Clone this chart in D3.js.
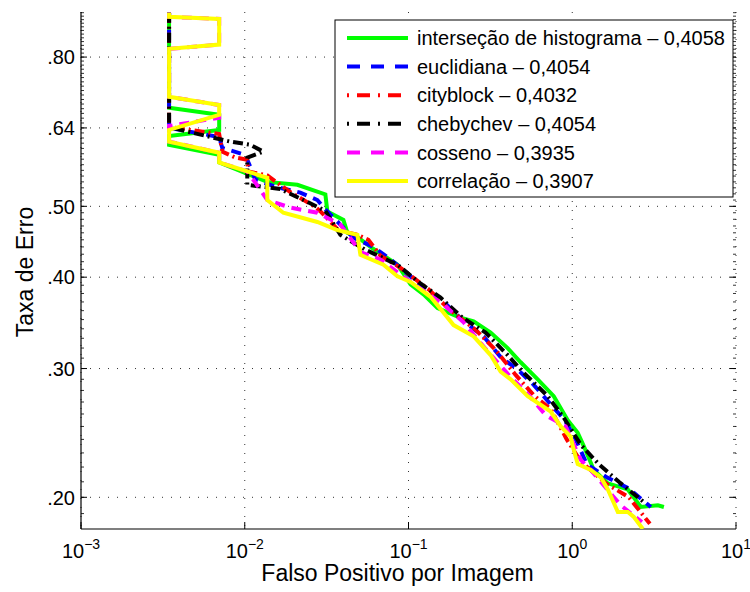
<!DOCTYPE html>
<html>
<head>
<meta charset="utf-8">
<script src="https://cdn.jsdelivr.net/npm/d3@7"></script>
<style>
  body { margin: 0; background: #fff; }
  text { font-family: "Liberation Sans", Arial, sans-serif; fill: #000; }
</style>
</head>
<body>
<div id="chart"></div>
<script>
// Data (falso positivo por imagem vs taxa de erro)
var interFP  = [0.00345,0.00345,0.00698,0.00698,0.00345,0.00345,0.00698,0.00698,0.01373,0.02095,0.03107,0.03196,0.04003,0.04235,0.04944,0.05856,0.08566,0.1029,0.1235,0.1504,0.208,0.2498,0.3174,0.4032,0.4842,0.6152,0.7707,0.9387,1.08,1.176,1.354,1.649,2.185,2.624,3.333,3.628];
var interErr = [0.920,0.682,0.667,0.636,0.624,0.607,0.588,0.574,0.540,0.535,0.519,0.492,0.479,0.460,0.453,0.440,0.416,0.391,0.379,0.363,0.352,0.348,0.336,0.320,0.306,0.290,0.275,0.255,0.245,0.235,0.218,0.209,0.205,0.194,0.195,0.194];

var euclFP  = [0.00345,0.00345,0.00698,0.00729,0.01007,0.01081,0.01159,0.0158,0.02185,0.02776,0.03107,0.03837,0.04608,0.0611,0.0809,0.1307,0.1684,0.217,0.2875,0.3653,0.4642,0.5816,0.7387,0.900,1.051,1.227,1.626,2.185,3.021];
var euclErr = [0.920,0.640,0.622,0.601,0.588,0.566,0.544,0.531,0.522,0.510,0.495,0.472,0.453,0.440,0.420,0.383,0.368,0.348,0.332,0.311,0.299,0.285,0.268,0.255,0.240,0.222,0.213,0.206,0.194];

var cityFP  = [0.00345,0.00345,0.00698,0.00729,0.00875,0.01036,0.0105,0.01373,0.01898,0.02698,0.029,0.0373,0.04875,0.05692,0.06742,0.08936,0.1326,0.1807,0.257,0.3405,0.4512,0.5897,0.7387,0.9256,1.127,1.603,2.217,2.979];
var cityErr = [0.920,0.642,0.628,0.594,0.583,0.579,0.558,0.551,0.523,0.499,0.492,0.464,0.457,0.450,0.428,0.412,0.385,0.360,0.339,0.318,0.294,0.275,0.264,0.240,0.224,0.209,0.200,0.184];

var chebFP  = [0.00345,0.00345,0.00484,0.00816,0.01081,0.01297,0.01036,0.01036,0.01648,0.02412,0.03107,0.03837,0.05458,0.08566,0.1151,0.1569,0.2139,0.2957,0.4032,0.4981,0.7084,0.8872,1.127,1.452,1.925,2.737];
var chebErr = [0.920,0.642,0.630,0.613,0.607,0.594,0.583,0.535,0.528,0.507,0.493,0.457,0.436,0.416,0.394,0.375,0.352,0.336,0.313,0.297,0.275,0.257,0.236,0.222,0.210,0.197];

var cossFP  = [0.00345,0.00345,0.00698,0.00698,0.00345,0.00345,0.00698,0.00698,0.00345,0.00345,0.00698,0.00698,0.01036,0.01159,0.01373,0.01898,0.02776,0.03837,0.05088,0.06742,0.1,0.1637,0.217,0.2757,0.4207,0.542,0.6885,0.9124,1.127,1.298,1.98,2.661];
var cossErr = [0.920,0.908,0.902,0.832,0.821,0.706,0.688,0.661,0.644,0.613,0.592,0.574,0.558,0.539,0.510,0.498,0.490,0.472,0.433,0.423,0.396,0.367,0.347,0.325,0.292,0.276,0.259,0.250,0.225,0.218,0.195,0.185];

var corrFP  = [0.00345,0.00345,0.00698,0.00698,0.00345,0.00345,0.00698,0.00698,0.00345,0.00345,0.00698,0.00698,0.01373,0.01373,0.0172,0.02776,0.03678,0.04875,0.05088,0.07034,0.08566,0.1029,0.1363,0.1569,0.1885,0.2498,0.3174,0.3653,0.4207,0.5344,0.7387,0.8507,0.979,1.007,1.08,1.298,1.494,1.649,1.898,2.185,2.378,2.699];
var corrErr = [0.920,0.908,0.902,0.832,0.821,0.706,0.688,0.667,0.636,0.613,0.592,0.574,0.547,0.510,0.490,0.476,0.464,0.457,0.429,0.416,0.401,0.394,0.376,0.362,0.344,0.332,0.313,0.297,0.290,0.275,0.262,0.250,0.242,0.235,0.222,0.218,0.213,0.205,0.191,0.191,0.188,0.181];

var seriesNames = ["interseção de histograma – 0,4058", "euclidiana – 0,4054", "cityblock – 0,4032",
                   "chebychev – 0,4054", "cosseno – 0,3935", "correlação – 0,3907"];

var xTicks = [1e-3, 1e-2, 1e-1, 1, 10];
var xExps = ["−3", "−2", "−1", "0", "1"];
var yTicks = [0.20, 0.30, 0.40, 0.50, 0.64, 0.80];
var yTickLabels = [".20", ".30", ".40", ".50", ".64", ".80"];

var svgWidth = 750;
var svgHeight = 592;
var margin = { top: 12, right: 14, bottom: 63, left: 81 };
var width = svgWidth - margin.left - margin.right;
var height = svgHeight - margin.top - margin.bottom;

var svg = d3.select("#chart").append("svg")
  .attr("width", svgWidth)
  .attr("height", svgHeight);

var g = svg.append("g")
  .attr("transform", `translate(${margin.left},${margin.top})`);

var x = d3.scaleLog().domain([1e-3, 10]).range([0, width]);
var y = d3.scaleLog().domain([0.181, 0.922]).range([height, 0]);

// dotted grid
g.selectAll(".gx").data(xTicks).enter().append("line")
  .attr("x1", d => x(d)).attr("x2", d => x(d))
  .attr("y1", 0).attr("y2", height)
  .attr("stroke", "#333").attr("stroke-width", 1)
  .attr("stroke-dasharray", "1,8");
g.selectAll(".gy").data(yTicks).enter().append("line")
  .attr("x1", 0).attr("x2", width)
  .attr("y1", d => y(d)).attr("y2", d => y(d))
  .attr("stroke", "#333").attr("stroke-width", 1)
  .attr("stroke-dasharray", "1,8");

// minor y ticks (inside, both sides)
var yMinor = d3.range(19, 93).map(d => d / 100);
[0, width].forEach(function(x0, i) {
  var dir = i === 0 ? 1 : -1;
  g.selectAll(null).data(yMinor).enter().append("line")
    .attr("x1", x0).attr("x2", x0 + dir * 3)
    .attr("y1", d => y(d)).attr("y2", d => y(d))
    .attr("stroke", "#000").attr("stroke-width", 0.8);
  g.selectAll(null).data(yTicks).enter().append("line")
    .attr("x1", x0).attr("x2", x0 + dir * 6)
    .attr("y1", d => y(d)).attr("y2", d => y(d))
    .attr("stroke", "#000").attr("stroke-width", 1);
});

// x ticks (inside)
g.selectAll(null).data(xTicks).enter().append("line")
  .attr("x1", d => x(d)).attr("x2", d => x(d))
  .attr("y1", height).attr("y2", height - 7)
  .attr("stroke", "#000").attr("stroke-width", 1);

// axis lines
g.append("line").attr("x1", 0).attr("x2", 0).attr("y1", 0).attr("y2", height)
  .attr("stroke", "#000").attr("stroke-width", 1.2);
g.append("line").attr("x1", 0).attr("x2", width).attr("y1", height).attr("y2", height)
  .attr("stroke", "#000").attr("stroke-width", 1.2);

// tick labels
g.selectAll(".ylab").data(yTicks).enter().append("text")
  .attr("x", -6).attr("y", d => y(d))
  .attr("dy", "0.36em")
  .attr("text-anchor", "end")
  .style("font-size", "20px")
  .text((d, i) => yTickLabels[i]);

var xl = g.selectAll(".xlab").data(xTicks).enter().append("text")
  .attr("x", d => x(d)).attr("y", height + 29)
  .attr("text-anchor", "middle")
  .style("font-size", "20px");
xl.append("tspan").text("10");
xl.append("tspan").attr("dy", -9).style("font-size", "14px").text((d, i) => xExps[i]);

// axis titles
g.append("text")
  .attr("x", width / 2 - 11).attr("y", height + 52)
  .attr("text-anchor", "middle")
  .style("font-size", "23px")
  .text("Falso Positivo por Imagem");

g.append("text")
  .attr("transform", "rotate(-90)")
  .attr("x", -260).attr("y", -48)
  .attr("text-anchor", "middle")
  .style("font-size", "23px")
  .text("Taxa de Erro");

// curves
var series = [
  { fp: interFP, err: interErr, color: "#00ff00", dash: null, lw: 4 },
  { fp: euclFP, err: euclErr, color: "#0000ff", dash: "10,7", lw: 4 },
  { fp: cityFP, err: cityErr, color: "#ff0000", dash: "10,4,2,4", lw: 4 },
  { fp: chebFP, err: chebErr, color: "#000000", dash: "10,4,2,4", lw: 4 },
  { fp: cossFP, err: cossErr, color: "#ff00ff", dash: "10,7", lw: 4 },
  { fp: corrFP, err: corrErr, color: "#ffff00", dash: null, lw: 4 }
];

svg.append("defs").append("clipPath").attr("id", "plotclip")
  .append("rect").attr("x", 0).attr("y", 0).attr("width", width).attr("height", height);

var line = d3.line()
  .x(d => x(d[0]))
  .y(d => y(d[1]));

var curves = g.append("g").attr("clip-path", "url(#plotclip)");
series.forEach(function(s) {
  curves.append("path")
    .datum(d3.zip(s.fp, s.err))
    .attr("d", line)
    .attr("fill", "none")
    .attr("stroke", s.color)
    .attr("stroke-width", s.lw)
    .attr("stroke-dasharray", s.dash)
    .attr("stroke-linejoin", "miter");
});

// legend
var legend = svg.append("g");
legend.append("rect")
  .attr("x", 335).attr("y", 20)
  .attr("width", 398).attr("height", 177)
  .attr("fill", "#fff").attr("stroke", "#000").attr("stroke-width", 1);

var legendDash = [null, "13,11", "2,8,13,8", "2,8,13,8", "13,11", null];
seriesNames.forEach(function(name, i) {
  var ly = 38 + i * 28.6;
  legend.append("line")
    .attr("x1", 347).attr("x2", 408)
    .attr("y1", ly).attr("y2", ly)
    .attr("stroke", series[i].color)
    .attr("stroke-width", 4)
    .attr("stroke-dasharray", legendDash[i]);
  legend.append("text")
    .attr("x", 417).attr("y", ly)
    .attr("dy", "0.36em")
    .style("font-size", "20px")
    .text(name);
});
</script>
</body>
</html>
